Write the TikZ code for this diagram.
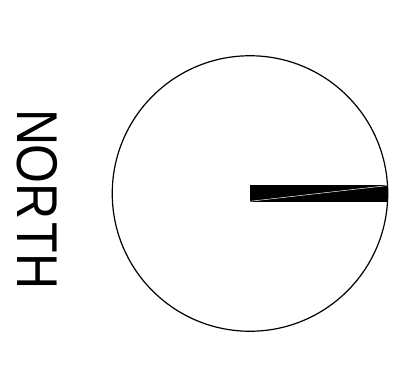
\documentclass[tikz,border=0pt]{standalone}
\usepackage{fontspec}
\setmainfont{Liberation Sans}
\newcommand\northletter[1]{\scalebox{1}[1.15]{\fontsize{50pt}{52pt}\selectfont #1}}
\begin{document}
\begin{tikzpicture}[x=1pt,y=-1pt,
  letter/.style={rotate=-90,inner sep=0pt}]
\useasboundingbox (0,0) rectangle (405,383);
\node[draw,circle,line width=1.2pt,minimum size=275.5pt,inner sep=0pt] (dial) at (250,193.5) {};
\fill (250,185) coordinate (b1) -- (387,185) -- (387,201.7) -- (250,201.7) -- cycle;
\draw[white,line width=0.5pt] (250,201.3) -- (387,185.6);
\node[letter] (n1) at (37.5,127.5) {\northletter{N}};
\node[letter] (n2) at (37.5,164) {\northletter{O}};
\node[letter] (n3) at (37.5,202) {\northletter{R}};
\node[letter] (n4) at (37.5,238) {\northletter{T}};
\node[letter] (n5) at (37.5,272) {\northletter{H}};
\end{tikzpicture}
\end{document}
